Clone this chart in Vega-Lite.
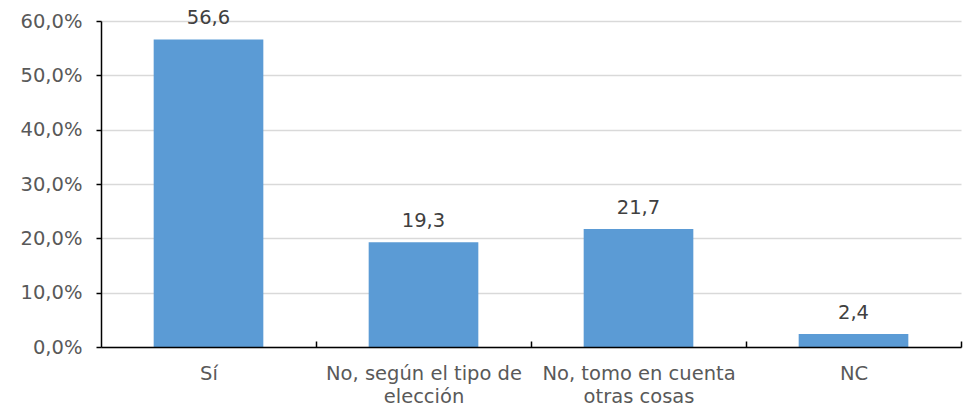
{
  "$schema": "https://vega.github.io/schema/vega-lite/v6.json",
  "width": 860,
  "height": 326,
  "autosize": {"type": "none"},
  "padding": {"left": 101, "top": 21, "right": 9, "bottom": 64},
  "background": "white",
  "config": {
    "view": {"stroke": null},
    "font": "DejaVu Sans"
  },
  "data": {
    "values": [
      {"respuesta": "Sí", "pct": 56.6},
      {"respuesta": "No, según el tipo de elección", "pct": 19.3},
      {"respuesta": "No, tomo en cuenta otras cosas", "pct": 21.7},
      {"respuesta": "NC", "pct": 2.4}
    ]
  },
  "transform": [
    {"calculate": "replace(format(datum.pct, '.1f'), '.', ',')", "as": "etiqueta"}
  ],
  "encoding": {
    "x": {
      "field": "respuesta",
      "type": "nominal",
      "sort": null,
      "scale": {"paddingInner": 0.49, "paddingOuter": 0.245},
      "axis": {
        "title": null,
        "labelAngle": 0,
        "labelExpr": "datum.label == 'No, según el tipo de elección' ? ['No, según el tipo de', 'elección'] : datum.label == 'No, tomo en cuenta otras cosas' ? ['No, tomo en cuenta', 'otras cosas'] : datum.label",
        "labelFont": "DejaVu Sans",
        "labelFontSize": 19.5,
        "labelColor": "#595959",
        "labelLineHeight": 23,
        "labelLimit": 400,
        "labelPadding": 23,
        "labelBaseline": "top",
        "tickOffset": 107.5,
        "labelOffset": -107.5,
        "tickSize": -6,
        "tickColor": "#000000",
        "tickWidth": 1.5,
        "domainColor": "#000000",
        "domainWidth": 1.5,
        "grid": false,
        "zindex": 1
      }
    },
    "y": {
      "field": "pct",
      "type": "quantitative",
      "scale": {"domain": [0, 60]},
      "axis": {
        "title": null,
        "values": [0, 10, 20, 30, 40, 50, 60],
        "labelExpr": "replace(format(datum.value, '.1f'), '.', ',') + '%'",
        "labelFont": "DejaVu Sans",
        "labelFontSize": 19.5,
        "labelColor": "#595959",
        "labelPadding": 14,
        "tickSize": 5,
        "tickColor": "#000000",
        "tickWidth": 1.5,
        "domainColor": "#000000",
        "domainWidth": 1.5,
        "gridColor": "#d9d9d9",
        "gridWidth": 1.3
      }
    }
  },
  "layer": [
    {"mark": {"type": "bar", "color": "#5B9BD5"}},
    {
      "mark": {"type": "text", "baseline": "alphabetic", "dy": -15, "font": "DejaVu Sans", "fontSize": 19.5, "color": "#404040"},
      "encoding": {"text": {"field": "etiqueta", "type": "nominal"}}
    }
  ]
}
